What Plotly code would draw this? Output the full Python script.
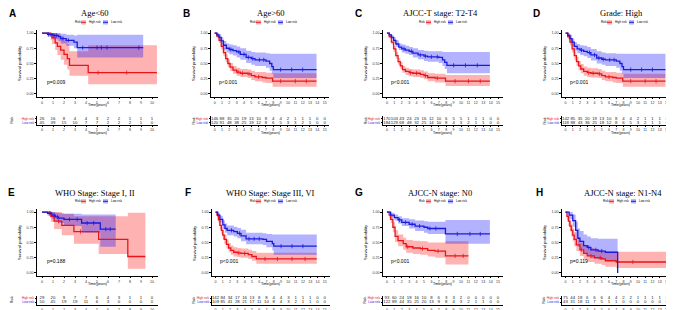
import plotly.graph_objects as go

W, H = 674, 310
RED, BLUE = "#E8151B", "#1A1ADB"
RED_F, BLUE_F = "rgba(255,0,0,0.30)", "rgba(0,0,255,0.30)"

# ---------------- DATA ----------------
letters = ["A", "B", "C", "D", "E", "F", "G", "H"]
titles = ["Age<60", "Age>60", "AJCC-T stage: T2-T4", "Grade: High",
          "WHO Stage: Stage I, II", "WHO Stage: Stage III, VI",
          "AJCC-N stage: N0", "AJCC-N stage: N1-N4"]
pvals = ["p=0.009", "p<0.001", "p<0.001", "p<0.001",
         "p=0.188", "p<0.001", "p<0.001", "p=0.119"]
xmax = [10, 15, 15, 15, 10, 15, 15, 15]

# Panel A
A_hi_t = [0, 0.8, 0.9, 1.2, 1.4, 1.7, 2.0, 2.3, 2.5, 4.2, 10.45]
A_hi_s = [1.0, 0.96, 0.92, 0.84, 0.78, 0.72, 0.65, 0.58, 0.47, 0.35, 0.35]
A_hi_lo = [1.0, 0.88, 0.82, 0.72, 0.64, 0.56, 0.48, 0.40, 0.30, 0.16, 0.16]
A_hi_up = [1.0, 1.0, 1.0, 1.0, 0.98, 0.94, 0.88, 0.82, 0.70, 0.80, 0.80]
A_hi_c = [5.1, 7.7]
A_lo_t = [0, 0.5, 1.0, 1.5, 1.7, 2.2, 2.9, 3.2, 9.2]
A_lo_s = [1.0, 0.98, 0.96, 0.94, 0.91, 0.88, 0.85, 0.76, 0.76]
A_lo_lo = [1.0, 0.94, 0.90, 0.87, 0.83, 0.79, 0.75, 0.60, 0.60]
A_lo_up = [1.0, 1.0, 1.0, 1.0, 0.99, 0.97, 0.96, 0.97, 0.97]
A_lo_c = [0.6, 1.1, 1.3, 1.9, 2.4, 3.7, 5.0, 5.4, 5.9, 8.8]
A_risk_hi = [26, 16, 8, 4, 4, 3, 2, 2, 1, 1, 1]
A_risk_lo = [45, 39, 15, 10, 7, 7, 2, 2, 2, 1, 0]

# Panel B
B_hi_t = [0, 0.3, 0.6, 0.9, 1.2, 1.5, 1.8, 2.1, 2.5, 3.0, 3.5, 4.5, 5.0, 5.5, 6.5, 7.0, 7.9, 13.9]
B_hi_s = [1.0, 0.95, 0.88, 0.78, 0.68, 0.58, 0.50, 0.44, 0.39, 0.36, 0.34, 0.33, 0.30, 0.28, 0.27, 0.26, 0.21, 0.21]
B_hi_lo = [1.0, 0.92, 0.84, 0.73, 0.62, 0.52, 0.44, 0.38, 0.33, 0.30, 0.28, 0.26, 0.23, 0.21, 0.19, 0.18, 0.12, 0.12]
B_hi_up = [1.0, 0.98, 0.93, 0.84, 0.75, 0.65, 0.57, 0.51, 0.46, 0.43, 0.41, 0.40, 0.38, 0.36, 0.36, 0.35, 0.34, 0.34]
B_hi_c = [3.2, 3.8, 4.7, 6.0, 9.0, 11.0, 12.5]
B_lo_t = [0, 0.3, 0.6, 0.9, 1.2, 1.6, 2.0, 2.5, 3.0, 3.5, 4.3, 5.0, 5.5, 7.0, 7.5, 7.8, 8.0, 13.9]
B_lo_s = [1.0, 0.97, 0.93, 0.87, 0.80, 0.75, 0.73, 0.71, 0.69, 0.65, 0.60, 0.58, 0.56, 0.54, 0.50, 0.45, 0.40, 0.40]
B_lo_lo = [1.0, 0.94, 0.88, 0.81, 0.73, 0.68, 0.65, 0.63, 0.60, 0.56, 0.51, 0.48, 0.46, 0.43, 0.38, 0.33, 0.26, 0.26]
B_lo_up = [1.0, 1.0, 0.98, 0.93, 0.87, 0.83, 0.81, 0.80, 0.78, 0.75, 0.71, 0.69, 0.68, 0.67, 0.66, 0.66, 0.66, 0.66]
B_lo_c = [2.2, 3.3, 4.0, 4.6, 5.2, 6.1, 6.7, 9.0, 10.5, 12.0]
B_risk_hi = [146, 88, 35, 20, 19, 13, 10, 8, 4, 4, 2, 1, 1, 1, 0, 0]
B_risk_lo = [120, 91, 48, 38, 25, 19, 12, 8, 6, 5, 3, 3, 2, 1, 0, 0]

# Panel C
C_hi_t = [0, 0.3, 0.6, 0.9, 1.2, 1.5, 1.8, 2.1, 2.5, 3.0, 3.5, 4.5, 5.0, 5.5, 6.5, 7.9, 13.9]
C_hi_s = [1.0, 0.94, 0.85, 0.74, 0.63, 0.53, 0.46, 0.40, 0.37, 0.35, 0.34, 0.32, 0.30, 0.27, 0.26, 0.21, 0.21]
C_hi_lo = [1.0, 0.91, 0.81, 0.69, 0.58, 0.48, 0.41, 0.35, 0.31, 0.29, 0.28, 0.26, 0.24, 0.21, 0.19, 0.13, 0.13]
C_hi_up = [1.0, 0.97, 0.90, 0.79, 0.69, 0.59, 0.52, 0.46, 0.43, 0.41, 0.40, 0.39, 0.37, 0.34, 0.33, 0.31, 0.31]
C_hi_c = [3.2, 4.0, 5.2, 6.8, 9.2, 11.0, 12.6]
C_lo_t = [0, 0.3, 0.6, 0.9, 1.2, 1.6, 2.0, 2.5, 3.0, 3.5, 4.2, 5.0, 5.5, 7.0, 7.5, 7.8, 8.1, 13.9]
C_lo_s = [1.0, 0.97, 0.93, 0.88, 0.82, 0.77, 0.74, 0.72, 0.70, 0.67, 0.64, 0.62, 0.61, 0.60, 0.56, 0.52, 0.47, 0.47]
C_lo_lo = [1.0, 0.95, 0.90, 0.84, 0.77, 0.72, 0.68, 0.66, 0.64, 0.60, 0.57, 0.54, 0.53, 0.51, 0.46, 0.41, 0.34, 0.34]
C_lo_up = [1.0, 0.99, 0.97, 0.93, 0.88, 0.83, 0.81, 0.79, 0.77, 0.75, 0.72, 0.71, 0.70, 0.70, 0.69, 0.69, 0.69, 0.69]
C_lo_c = [2.3, 3.3, 4.5, 5.2, 6.0, 6.8, 9.0, 10.6, 12.2]
C_risk_hi = [170, 103, 43, 24, 23, 16, 12, 10, 6, 5, 5, 1, 1, 1, 0, 0]
C_risk_lo = [184, 129, 68, 48, 32, 25, 14, 10, 8, 4, 3, 2, 1, 1, 0, 0]

# Panel D
D_hi_t = [0, 0.3, 0.6, 0.9, 1.2, 1.5, 1.8, 2.1, 2.5, 3.0, 3.5, 4.5, 5.0, 5.5, 6.5, 7.0, 7.9, 13.8]
D_hi_s = [1.0, 0.94, 0.85, 0.74, 0.63, 0.53, 0.46, 0.41, 0.37, 0.35, 0.34, 0.33, 0.30, 0.28, 0.27, 0.26, 0.21, 0.21]
D_hi_lo = [1.0, 0.90, 0.80, 0.68, 0.56, 0.46, 0.39, 0.34, 0.30, 0.28, 0.27, 0.26, 0.23, 0.21, 0.19, 0.18, 0.12, 0.12]
D_hi_up = [1.0, 0.98, 0.91, 0.81, 0.70, 0.61, 0.54, 0.49, 0.45, 0.43, 0.42, 0.41, 0.38, 0.36, 0.36, 0.35, 0.33, 0.33]
D_hi_c = [3.2, 3.8, 4.7, 6.0, 9.0, 11.0, 12.5]
D_lo_t = [0, 0.3, 0.6, 0.9, 1.2, 1.6, 2.0, 2.5, 3.0, 3.5, 4.3, 5.0, 5.5, 7.0, 7.5, 7.8, 8.0, 13.8]
D_lo_s = [1.0, 0.96, 0.91, 0.85, 0.78, 0.74, 0.72, 0.70, 0.68, 0.64, 0.59, 0.57, 0.56, 0.54, 0.50, 0.45, 0.40, 0.40]
D_lo_lo = [1.0, 0.93, 0.86, 0.79, 0.71, 0.67, 0.64, 0.62, 0.59, 0.55, 0.50, 0.48, 0.46, 0.43, 0.38, 0.33, 0.26, 0.26]
D_lo_up = [1.0, 1.0, 0.97, 0.91, 0.85, 0.82, 0.80, 0.79, 0.77, 0.74, 0.70, 0.68, 0.67, 0.66, 0.66, 0.66, 0.66, 0.66]
D_lo_c = [2.2, 3.3, 4.0, 4.6, 5.2, 6.1, 6.7, 9.0, 10.5, 12.0]
D_risk_hi = [142, 85, 35, 20, 19, 13, 10, 8, 4, 4, 2, 1, 1, 1, 0, 0]
D_risk_lo = [118, 88, 43, 36, 25, 18, 12, 8, 6, 5, 3, 2, 1, 1, 0, 0]

# Panel E
E_hi_t = [0, 0.8, 1.1, 1.8, 2.9, 5.15, 7.8, 9.4]
E_hi_s = [1.0, 0.93, 0.85, 0.78, 0.68, 0.55, 0.27, 0.27]
E_hi_lo = [1.0, 0.84, 0.72, 0.62, 0.48, 0.31, 0.07, 0.07]
E_hi_up = [1.0, 1.0, 1.0, 0.97, 0.93, 0.93, 0.99, 0.99]
E_hi_c = [1.5, 3.5]
E_lo_t = [0, 0.5, 0.9, 1.2, 1.5, 2.0, 3.6, 5.3, 6.7]
E_lo_s = [1.0, 0.98, 0.95, 0.92, 0.90, 0.88, 0.82, 0.72, 0.72]
E_lo_lo = [1.0, 0.94, 0.89, 0.85, 0.82, 0.77, 0.66, 0.43, 0.43]
E_lo_up = [1.0, 1.0, 1.0, 0.99, 0.98, 0.97, 0.96, 0.96, 0.96]
E_lo_c = [0.7, 1.1, 1.4, 2.5, 3.2, 4.1, 4.7, 5.8, 6.2]
E_risk_hi = [29, 20, 9, 7, 7, 6, 4, 3, 1, 1, 0]
E_risk_lo = [50, 45, 19, 19, 11, 6, 3, 0, 0, 0, 0]

# Panel F
F_hi_t = [0, 0.2, 0.4, 0.6, 0.8, 1.0, 1.2, 1.5, 1.8, 2.1, 2.5, 3.0, 3.5, 4.5, 5.0, 5.6, 13.9]
F_hi_s = [1.0, 0.95, 0.87, 0.78, 0.70, 0.62, 0.55, 0.47, 0.41, 0.37, 0.34, 0.33, 0.32, 0.30, 0.27, 0.23, 0.23]
F_hi_lo = [1.0, 0.91, 0.82, 0.72, 0.63, 0.55, 0.48, 0.40, 0.34, 0.30, 0.27, 0.26, 0.25, 0.23, 0.20, 0.15, 0.15]
F_hi_up = [1.0, 0.99, 0.93, 0.85, 0.77, 0.70, 0.63, 0.55, 0.49, 0.45, 0.42, 0.41, 0.40, 0.38, 0.36, 0.33, 0.33]
F_hi_c = [3.2, 4.0, 6.8, 8.5, 10.5, 12.3]
F_lo_t = [0, 0.3, 0.6, 1.0, 1.3, 1.6, 2.5, 3.0, 3.5, 4.2, 6.5, 7.0, 7.8, 8.0, 13.9]
F_lo_s = [1.0, 0.95, 0.88, 0.79, 0.73, 0.70, 0.68, 0.65, 0.61, 0.56, 0.55, 0.52, 0.48, 0.44, 0.44]
F_lo_lo = [1.0, 0.91, 0.83, 0.72, 0.66, 0.62, 0.60, 0.57, 0.52, 0.47, 0.46, 0.42, 0.37, 0.30, 0.30]
F_lo_up = [1.0, 0.99, 0.94, 0.86, 0.81, 0.78, 0.76, 0.74, 0.71, 0.66, 0.65, 0.64, 0.63, 0.63, 0.63]
F_lo_c = [2.2, 3.3, 4.6, 5.3, 6.0, 9.0, 10.5, 12.0]
F_risk_hi = [142, 84, 34, 17, 16, 13, 8, 8, 4, 4, 3, 1, 1, 1, 0, 0]
F_risk_lo = [109, 85, 41, 28, 21, 17, 11, 10, 8, 4, 3, 2, 1, 1, 0, 0]

# Panel G
G_hi_t = [0, 0.3, 0.5, 0.8, 1.1, 1.5, 2.2, 2.6, 3.5, 4.5, 5.5, 6.5, 7.9, 11.0]
G_hi_s = [1.0, 0.95, 0.88, 0.75, 0.60, 0.53, 0.48, 0.43, 0.41, 0.40, 0.37, 0.36, 0.28, 0.28]
G_hi_lo = [1.0, 0.90, 0.82, 0.67, 0.51, 0.44, 0.38, 0.33, 0.31, 0.30, 0.27, 0.25, 0.14, 0.14]
G_hi_up = [1.0, 1.0, 0.95, 0.84, 0.70, 0.63, 0.58, 0.54, 0.53, 0.52, 0.50, 0.50, 0.52, 0.52]
G_hi_c = [2.8, 4.8, 6.9, 9.2, 10.3]
G_lo_t = [0, 0.5, 1.0, 1.5, 2.0, 3.0, 3.8, 5.0, 5.5, 7.9, 13.9]
G_lo_s = [1.0, 0.95, 0.91, 0.87, 0.83, 0.80, 0.77, 0.75, 0.73, 0.64, 0.64]
G_lo_lo = [1.0, 0.91, 0.86, 0.81, 0.77, 0.73, 0.69, 0.66, 0.64, 0.48, 0.48]
G_lo_up = [1.0, 0.99, 0.96, 0.93, 0.90, 0.88, 0.86, 0.85, 0.84, 0.87, 0.87]
G_lo_c = [1.7, 2.5, 3.4, 4.4, 5.8, 6.6, 9.5, 11.2, 12.6]
G_risk_hi = [93, 60, 24, 18, 16, 10, 8, 6, 3, 3, 2, 0, 0, 0, 0, 0]
G_risk_lo = [122, 89, 44, 35, 25, 20, 13, 9, 8, 4, 3, 2, 1, 1, 0, 0]

# Panel H
H_hi_t = [0, 0.2, 0.4, 0.6, 0.8, 1.0, 1.2, 1.5, 2.0, 2.5, 3.0, 4.0, 5.0, 5.5, 7.0, 13.9]
H_hi_s = [1.0, 0.93, 0.85, 0.77, 0.70, 0.62, 0.55, 0.46, 0.38, 0.32, 0.28, 0.25, 0.23, 0.20, 0.18, 0.18]
H_hi_lo = [1.0, 0.87, 0.77, 0.68, 0.60, 0.52, 0.44, 0.36, 0.28, 0.22, 0.18, 0.15, 0.13, 0.10, 0.08, 0.08]
H_hi_up = [1.0, 0.99, 0.93, 0.86, 0.80, 0.73, 0.67, 0.58, 0.50, 0.45, 0.41, 0.38, 0.36, 0.35, 0.35, 0.35]
H_hi_c = [2.2, 3.5, 4.8, 9.3]
H_lo_t = [0, 0.5, 1.0, 1.4, 1.7, 2.0, 2.5, 3.0, 3.5, 4.5, 5.5, 7.2]
H_lo_s = [1.0, 0.95, 0.86, 0.70, 0.57, 0.52, 0.45, 0.42, 0.38, 0.36, 0.34, 0.0]
H_lo_lo = [1.0, 0.88, 0.76, 0.57, 0.43, 0.38, 0.31, 0.28, 0.24, 0.22, 0.20, 0.20]
H_lo_up = [1.0, 1.0, 0.96, 0.84, 0.73, 0.69, 0.63, 0.60, 0.57, 0.56, 0.56, 0.56]
H_lo_c = [3.2, 4.2, 5.0]
H_risk_hi = [75, 44, 18, 6, 6, 6, 4, 4, 2, 2, 1, 1, 1, 1, 0, 0]
H_risk_lo = [43, 31, 18, 11, 7, 5, 1, 1, 0, 0, 0, 0, 0, 0, 0, 0]

curves = {
    "A": (A_hi_t, A_hi_s, A_hi_lo, A_hi_up, A_hi_c, A_lo_t, A_lo_s, A_lo_lo, A_lo_up, A_lo_c, A_risk_hi, A_risk_lo),
    "B": (B_hi_t, B_hi_s, B_hi_lo, B_hi_up, B_hi_c, B_lo_t, B_lo_s, B_lo_lo, B_lo_up, B_lo_c, B_risk_hi, B_risk_lo),
    "C": (C_hi_t, C_hi_s, C_hi_lo, C_hi_up, C_hi_c, C_lo_t, C_lo_s, C_lo_lo, C_lo_up, C_lo_c, C_risk_hi, C_risk_lo),
    "D": (D_hi_t, D_hi_s, D_hi_lo, D_hi_up, D_hi_c, D_lo_t, D_lo_s, D_lo_lo, D_lo_up, D_lo_c, D_risk_hi, D_risk_lo),
    "E": (E_hi_t, E_hi_s, E_hi_lo, E_hi_up, E_hi_c, E_lo_t, E_lo_s, E_lo_lo, E_lo_up, E_lo_c, E_risk_hi, E_risk_lo),
    "F": (F_hi_t, F_hi_s, F_hi_lo, F_hi_up, F_hi_c, F_lo_t, F_lo_s, F_lo_lo, F_lo_up, F_lo_c, F_risk_hi, F_risk_lo),
    "G": (G_hi_t, G_hi_s, G_hi_lo, G_hi_up, G_hi_c, G_lo_t, G_lo_s, G_lo_lo, G_lo_up, G_lo_c, G_risk_hi, G_risk_lo),
    "H": (H_hi_t, H_hi_s, H_hi_lo, H_hi_up, H_hi_c, H_lo_t, H_lo_s, H_lo_lo, H_lo_up, H_lo_c, H_risk_hi, H_risk_lo),
}

# ---------------- LAYOUT GEOMETRY (pixels) ----------------
plot_xdom = [(28.5, 149.5), (202.6, 321.4), (374.5, 494.5), (553.6, 670.5),
             (28.5, 149.5), (203.5, 321.5), (374.5, 494.5), (553.5, 670.5)]
x_ranges = [[-0.5, 10.5], [-0.55, 15.65], [-0.6, 15.6], [-0.55, 15.6],
            [-0.5, 10.5], [-0.55, 15.65], [-0.6, 15.6], [-0.55, 15.6]]
title_cx = [87, 262, 432, 613, 87, 262, 432, 615]
letter_x = [4, 178, 350, 528, 3, 180, 351, 531]
risk_lab_x = [4, None, None, None, 4, None, None, None]
row_dy = [0, 0, 0, 0, 179, 179, 179, 179]

def px(x):
    return x / W

def py(y):
    return 1 - y / H

def step_at(t, s, c):
    v = s[0]
    for ti, si in zip(t, s):
        if ti <= c:
            v = si
    return v

fig = go.Figure()
annotations = []
shapes = []
layout_axes = {}

SERIF = "Liberation Serif, Times New Roman, serif"
SANS = "Liberation Sans, Arial, sans-serif"
TICKC = "#333333"

for i, L in enumerate(letters):
    (hi_t, hi_s, hi_lo, hi_up, hi_c, lo_t, lo_s, lo_lo, lo_up, lo_c, rk_hi, rk_lo) = curves[L]
    dy = row_dy[i]
    pa, ta = 2 * i + 1, 2 * i + 2
    xa_p = "x" if pa == 1 else f"x{pa}"
    ya_p = "y" if pa == 1 else f"y{pa}"
    xa_t, ya_t = f"x{ta}", f"y{ta}"
    x0, x1 = plot_xdom[i]
    xr = x_ranges[i]
    ticks = list(range(0, xmax[i] + 1))

    # confidence bands
    for (t, lo, up, fc) in [(hi_t, hi_lo, hi_up, RED_F), (lo_t, lo_lo, lo_up, BLUE_F)]:
        fig.add_trace(go.Scatter(x=t, y=lo, mode="lines", line=dict(width=0, shape="hv"),
                                 xaxis=xa_p, yaxis=ya_p, showlegend=False, hoverinfo="skip"))
        fig.add_trace(go.Scatter(x=t, y=up, mode="lines", line=dict(width=0, shape="hv"),
                                 fill="tonexty", fillcolor=fc,
                                 xaxis=xa_p, yaxis=ya_p, showlegend=False, hoverinfo="skip"))
    # survival lines and censor marks
    for (t, s, c, col) in [(hi_t, hi_s, hi_c, RED), (lo_t, lo_s, lo_c, BLUE)]:
        fig.add_trace(go.Scatter(x=t, y=s, mode="lines", line=dict(width=1.3, color=col, shape="hv"),
                                 xaxis=xa_p, yaxis=ya_p, showlegend=False))
        fig.add_trace(go.Scatter(x=c, y=[step_at(t, s, cc) for cc in c], mode="markers",
                                 marker=dict(symbol="line-ns", size=3, line=dict(width=0.8, color=col)),
                                 xaxis=xa_p, yaxis=ya_p, showlegend=False))
    # risk table numbers
    fig.add_trace(go.Scatter(x=ticks, y=[2] * len(ticks), mode="text",
                             text=[str(v) for v in rk_hi[:len(ticks)]],
                             textfont=dict(size=4.3, color="#222", family=SANS),
                             xaxis=xa_t, yaxis=ya_t, showlegend=False))
    fig.add_trace(go.Scatter(x=ticks, y=[1] * len(ticks), mode="text",
                             text=[str(v) for v in rk_lo[:len(ticks)]],
                             textfont=dict(size=4.3, color="#222", family=SANS),
                             xaxis=xa_t, yaxis=ya_t, showlegend=False))

    common = dict(showline=True, linecolor="black", linewidth=0.6, ticks="outside",
                  ticklen=1.5, tickwidth=0.5, tickcolor="black", showgrid=False,
                  zeroline=False, tickfont=dict(size=3.6, color=TICKC, family=SANS))
    key_xp = "xaxis" if pa == 1 else f"xaxis{pa}"
    key_yp = "yaxis" if pa == 1 else f"yaxis{pa}"
    layout_axes[key_xp] = dict(common, domain=[px(x0), px(x1)], range=xr, anchor=ya_p,
                               tickmode="array", tickvals=ticks, ticktext=[str(v) for v in ticks])
    layout_axes[key_yp] = dict(common, domain=[py(89 + dy), py(22 + dy)], range=[-0.05, 1.05],
                               anchor=xa_p, tickmode="array", tickvals=[0, 0.25, 0.5, 0.75, 1],
                               ticktext=["0.00", "0.25", "0.50", "0.75", "1.00"])
    tdy = dy + (0.5 if dy else 0)
    layout_axes[f"xaxis{ta}"] = dict(common, domain=[px(x0), px(x1)], range=xr, anchor=ya_t,
                                     tickmode="array", tickvals=ticks, ticktext=[str(v) for v in ticks],
                                     ticklen=1)
    layout_axes[f"yaxis{ta}"] = dict(common, domain=[py(117 + tdy), py(108 + tdy)],
                                     range=[0.5, 2.6], anchor=xa_t, tickmode="array", tickvals=[1, 2],
                                     ticklen=1,
                                     ticktext=[f"<span style='color:{BLUE}'>Low risk</span>",
                                               f"<span style='color:{RED}'>High risk</span>"])
    layout_axes[f"yaxis{ta}"]["tickfont"] = dict(size=3.2, family=SANS)

    cx = title_cx[i]
    ty = 5.5 + dy
    ly = 14.3 + dy
    # panel letter and title
    annotations.append(dict(text=f"<b>{L}</b>", x=px(letter_x[i]), y=py(ty), xref="paper", yref="paper",
                            showarrow=False, font=dict(size=10, family=SANS, color="black"),
                            xanchor="center", yanchor="middle"))
    annotations.append(dict(text=titles[i], x=px(cx), y=py(ty), xref="paper", yref="paper",
                            showarrow=False, font=dict(size=8.5, family=SERIF, color="black"),
                            xanchor="center", yanchor="middle"))
    # legend
    lf = dict(size=3, family=SANS, color="black")
    annotations.append(dict(text="Risk", x=px(cx - 17.5), y=py(ly), xref="paper", yref="paper",
                            showarrow=False, font=lf, xanchor="center", yanchor="middle"))
    annotations.append(dict(text="High risk", x=px(cx - 8), y=py(ly), xref="paper", yref="paper",
                            showarrow=False, font=lf, xanchor="left", yanchor="middle"))
    annotations.append(dict(text="Low risk", x=px(cx + 13.5), y=py(ly), xref="paper", yref="paper",
                            showarrow=False, font=lf, xanchor="left", yanchor="middle"))
    for (a, b, fc, lc) in [(cx - 14, cx - 9, RED_F, RED), (cx + 8, cx + 13, BLUE_F, BLUE)]:
        shapes.append(dict(type="rect", xref="paper", yref="paper", x0=px(a), x1=px(b),
                           y0=py(ly + 2.2), y1=py(ly - 2.2), fillcolor=fc, line=dict(width=0)))
        shapes.append(dict(type="line", xref="paper", yref="paper", x0=px(a), x1=px(b),
                           y0=py(ly), y1=py(ly), line=dict(width=1, color=lc)))
    # axis titles
    annotations.append(dict(text="Survival probability", x=px(x0 - 17), y=py(55.5 + dy), xref="paper",
                            yref="paper", showarrow=False, textangle=-90,
                            font=dict(size=4.2, family=SANS, color="black"),
                            xanchor="center", yanchor="middle"))
    annotations.append(dict(text="Time(years)", x=px((x0 + x1) / 2), y=py(97 + dy), xref="paper",
                            yref="paper", showarrow=False, font=dict(size=3.6, family=SANS, color="black"),
                            xanchor="center", yanchor="middle"))
    annotations.append(dict(text="Time(years)", x=px((x0 + x1) / 2), y=py(125 + dy), xref="paper",
                            yref="paper", showarrow=False, font=dict(size=3.6, family=SANS, color="black"),
                            xanchor="center", yanchor="middle"))
    rx = risk_lab_x[i] if risk_lab_x[i] is not None else x0 - 17
    annotations.append(dict(text="Risk", x=px(rx), y=py(112.8 + tdy), xref="paper", yref="paper",
                            showarrow=False, textangle=-90, font=dict(size=3.6, family=SANS, color="black"),
                            xanchor="center", yanchor="middle"))
    # p value
    annotations.append(dict(text=pvals[i], x=0.3, y=0.2, xref=xa_p, yref=ya_p, showarrow=False,
                            font=dict(size=5, family=SANS, color="black"),
                            xanchor="left", yanchor="middle"))

fig.update_layout(width=W, height=H, margin=dict(l=0, r=0, t=0, b=0),
                  paper_bgcolor="white", plot_bgcolor="white",
                  showlegend=False, annotations=annotations, shapes=shapes, **layout_axes)
fig.write_html("out.html")
